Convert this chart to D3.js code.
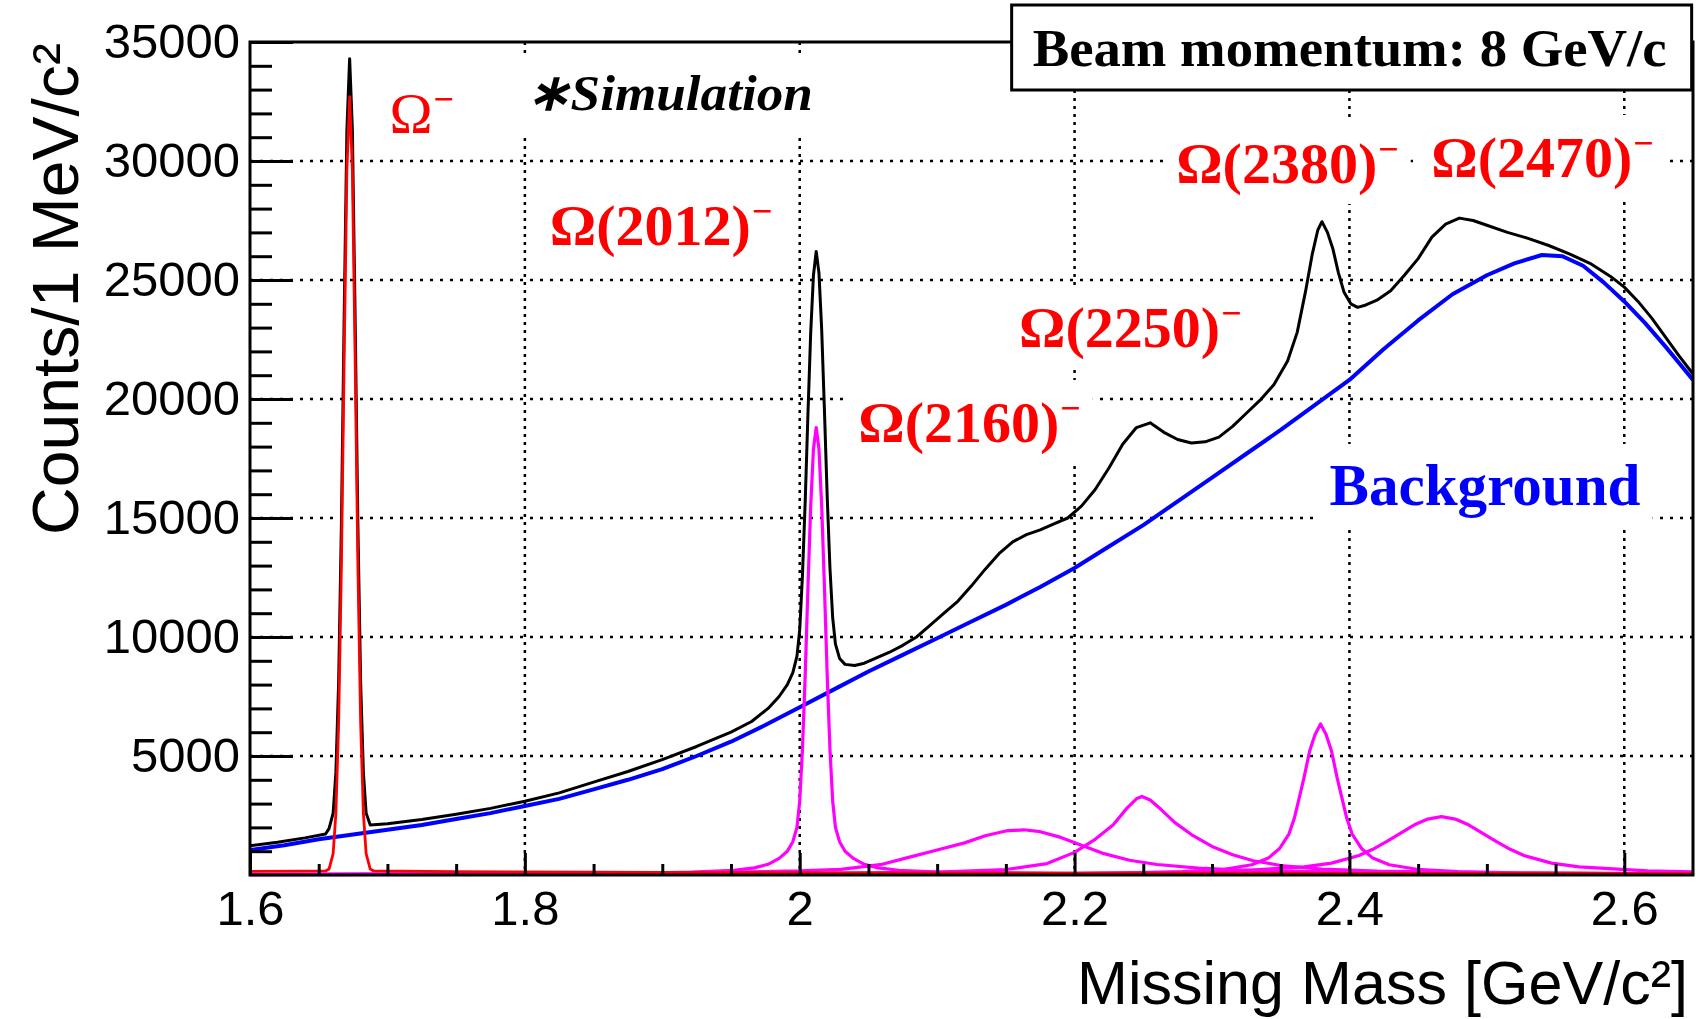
<!DOCTYPE html>
<html><head><meta charset="utf-8">
<script src="https://cdn.jsdelivr.net/npm/d3@7"></script>
<style>body{margin:0;background:#fff}</style>
</head><body>
<svg id="c" width="1696" height="1019" xmlns="http://www.w3.org/2000/svg"></svg>
<script>
// ---------- data ----------
const xDomain = [1.6, 2.65];
const yDomain = [0, 35000];
const xTickValues = [1.6, 1.8, 2.0, 2.2, 2.4, 2.6];
const xTickLabels = ["1.6", "1.8", "2", "2.2", "2.4", "2.6"];
const yTickValues = [5000, 10000, 15000, 20000, 25000, 30000, 35000];
const yTickLabels = ["5000", "10000", "15000", "20000", "25000", "30000", "35000"];
const xGrid = [1.8, 2.0, 2.2, 2.4, 2.6];
const yGrid = [5000, 10000, 15000, 20000, 25000, 30000];

// Background (blue)
const bgMass = [1.600,1.625,1.650,1.675,1.700,1.725,1.750,1.775,1.800,1.825,1.850,1.875,1.900,1.925,1.950,1.975,2.000,2.025,2.050,2.075,2.100,2.125,2.150,2.175,2.200,2.225,2.250,2.275,2.300,2.325,2.350,2.375,2.400,2.425,2.450,2.475,2.500,2.520,2.540,2.555,2.570,2.585,2.600,2.615,2.630,2.640,2.650];
const bgCounts = [1050,1250,1500,1700,1900,2100,2350,2600,2900,3200,3600,4000,4450,5000,5600,6300,7050,7800,8550,9250,9950,10650,11350,12100,12900,13800,14700,15700,16700,17700,18700,19750,20800,22100,23300,24400,25200,25700,26050,26000,25600,24900,24100,23200,22200,21500,20800];

// Total (black)
const totMass = [1.600,1.620,1.640,1.655,1.6575,1.6605,1.6625,1.6645,1.6665,1.6685,1.6705,1.6725,1.6745,1.6765,1.6785,1.6805,1.6825,1.6845,1.6875,1.700,1.725,1.750,1.775,1.800,1.825,1.850,1.875,1.900,1.925,1.950,1.965,1.977,1.985,1.991,1.995,1.998,2.000,2.002,2.004,2.006,2.008,2.010,2.012,2.014,2.016,2.018,2.020,2.022,2.024,2.026,2.029,2.033,2.040,2.047,2.055,2.065,2.075,2.085,2.095,2.105,2.115,2.125,2.135,2.145,2.155,2.165,2.175,2.185,2.195,2.205,2.215,2.225,2.235,2.245,2.255,2.265,2.275,2.285,2.295,2.305,2.315,2.325,2.335,2.345,2.355,2.362,2.368,2.373,2.377,2.380,2.384,2.388,2.392,2.396,2.401,2.406,2.412,2.420,2.430,2.440,2.450,2.460,2.470,2.480,2.490,2.500,2.515,2.530,2.545,2.560,2.575,2.590,2.600,2.610,2.620,2.630,2.640,2.650];
const totCounts = [1230,1380,1560,1720,1950,2600,4300,8100,14700,23400,31300,34300,31300,23400,14700,8100,4300,2600,2100,2150,2330,2550,2800,3100,3450,3900,4350,4850,5400,6000,6450,7000,7500,8000,8500,9200,10300,12600,15700,19400,22800,25200,26200,25300,22900,19500,15900,12900,10800,9700,9100,8850,8800,8900,9100,9350,9650,10000,10500,11000,11500,12150,12850,13500,14000,14300,14500,14750,15000,15500,16200,17100,18100,18800,19000,18600,18300,18150,18200,18400,18850,19400,19950,20600,21600,22800,24500,26100,27100,27450,27000,26300,25300,24500,24000,23850,23950,24150,24550,25200,25900,26800,27350,27600,27500,27300,27000,26750,26450,26100,25700,25150,24700,24100,23400,22600,21800,21050];

// Omega- (red)
const omMass = [1.600,1.640,1.655,1.6575,1.6605,1.6625,1.6645,1.6665,1.6685,1.6705,1.6725,1.6745,1.6765,1.6785,1.6805,1.6825,1.6845,1.6875,1.690,1.750,1.850,1.950,2.050,2.200,2.400,2.650];
const omCounts = [150,160,170,250,900,2600,6400,13000,21700,29600,32700,29600,21700,13000,6400,2600,900,250,170,140,120,100,90,80,70,60];

// Excited states (magenta)
const p2012Mass = [1.600,1.800,1.880,1.922,1.952,1.967,1.977,1.985,1.991,1.995,1.998,2.000,2.002,2.004,2.006,2.008,2.010,2.012,2.014,2.016,2.018,2.020,2.022,2.024,2.026,2.029,2.033,2.039,2.047,2.057,2.072,2.102,2.200,2.400,2.650];
const p2012Counts = [15,35,70,120,200,300,450,700,1000,1400,2000,3100,5300,8400,12100,15500,17900,18800,17900,15500,12100,8400,5300,3100,2000,1400,1000,700,450,300,200,120,60,30,20];

const p2160Mass = [1.600,1.800,1.900,1.950,2.000,2.030,2.060,2.080,2.100,2.120,2.135,2.150,2.163,2.175,2.190,2.205,2.220,2.240,2.260,2.290,2.330,2.400,2.500,2.650];
const p2160Counts = [30,60,90,120,170,240,450,750,1050,1350,1650,1850,1900,1820,1580,1250,920,620,440,290,190,120,80,50];

const p2250Mass = [1.600,1.900,2.000,2.100,2.150,2.180,2.200,2.215,2.228,2.238,2.245,2.249,2.255,2.263,2.273,2.285,2.300,2.315,2.330,2.350,2.380,2.420,2.500,2.650];
const p2250Counts = [20,40,60,120,230,480,950,1500,2100,2800,3200,3300,3150,2750,2200,1700,1200,850,600,400,250,160,90,50];

const p2380Mass = [1.600,2.000,2.200,2.229,2.279,2.309,2.329,2.341,2.349,2.356,2.360,2.364,2.367,2.371,2.375,2.379,2.383,2.387,2.391,2.394,2.398,2.402,2.409,2.417,2.429,2.449,2.479,2.529,2.650];
const p2380Counts = [15,30,60,80,140,240,430,710,1100,1720,2400,3370,4100,5200,5900,6350,5900,5200,4100,3370,2400,1720,1100,710,430,240,140,80,45];

const p2470Mass = [1.600,2.000,2.200,2.267,2.317,2.367,2.387,2.407,2.417,2.427,2.437,2.447,2.457,2.467,2.477,2.487,2.497,2.507,2.517,2.527,2.547,2.567,2.617,2.650];
const p2470Counts = [20,40,65,100,170,340,500,820,1080,1400,1750,2100,2350,2450,2350,2100,1750,1400,1080,820,500,340,170,130];

// Annotations: left/baseline anchors in data units
const peakLabels = [
  {text: "Ω",       sup: "−", m: 1.7015, c: 31176, bold: false, box: false},
  {text: "Ω(2012)", sup: "−", m: 1.8182, c: 26471, bold: true,  box: false},
  {text: "Ω(2160)", sup: "−", m: 2.0426, c: 18193, bold: true,  box: true},
  {text: "Ω(2250)", sup: "−", m: 2.1596, c: 22185, bold: true,  box: true},
  {text: "Ω(2380)", sup: "−", m: 2.2739, c: 29076, bold: true,  box: true},
  {text: "Ω(2470)", sup: "−", m: 2.4595, c: 29328, bold: true,  box: true}
];
const bgLabel = {text: "Background", m: 2.3855, c: 15546};
const simLabel = {text: "∗Simulation", m: 1.8007, c: 32143};
const beamLabel = {text: "Beam momentum: 8 GeV/c", m: 2.1695, c: 33992};
const xTitle = "Missing Mass [GeV/c²]";
const yTitle = "Counts/1 MeV/c²";

// ---------- drawing ----------
const svg = d3.select("#c");
const X0 = 250, X1 = 1693, Y0 = 42, Y1 = 875;
const x = d3.scaleLinear().domain(xDomain).range([X0, X1]);
const y = d3.scaleLinear().domain(yDomain).range([Y1, Y0]);
const SANS = "'Liberation Sans', Arial, sans-serif";
const SERIF = "'Liberation Serif', 'Times New Roman', serif";

svg.append("rect").attr("width", 1696).attr("height", 1019).attr("fill", "#fff");
svg.append("defs").append("clipPath").attr("id", "clip")
  .append("rect").attr("x", X0).attr("y", Y0 - 10).attr("width", X1 - X0).attr("height", Y1 - Y0 + 14);

const gGrid = svg.append("g");
const gBox = svg.append("g");
const gCurve = svg.append("g").attr("clip-path", "url(#clip)");
const gAxis = svg.append("g");
const gLab = svg.append("g");

// grid
gGrid.selectAll("line.v").data(xGrid).join("line").attr("class", "v")
  .attr("x1", d => x(d)).attr("x2", d => x(d)).attr("y1", Y0).attr("y2", Y1)
  .attr("stroke", "#000").attr("stroke-width", 2.5).attr("stroke-dasharray", "3,5");
gGrid.selectAll("line.h").data(yGrid).join("line").attr("class", "h")
  .attr("x1", X0).attr("x2", X1).attr("y1", d => y(d)).attr("y2", d => y(d))
  .attr("stroke", "#000").attr("stroke-width", 2.5).attr("stroke-dasharray", "3,7");

// curves
const line = d3.line().x(d => x(d[0])).y(d => y(d[1]));
const zip = (a, b) => a.map((v, i) => [v, b[i]]);
function draw(mass, counts, color, w) {
  gCurve.append("path").datum(zip(mass, counts)).attr("d", line)
    .attr("fill", "none").attr("stroke", color).attr("stroke-width", w)
    .attr("stroke-linejoin", "round");
}
draw(bgMass, bgCounts, "#0000ff", 4);
draw(totMass, totCounts, "#000000", 3);
[[p2012Mass, p2012Counts], [p2160Mass, p2160Counts], [p2250Mass, p2250Counts],
 [p2380Mass, p2380Counts], [p2470Mass, p2470Counts]].forEach(p => draw(p[0], p[1], "#ff00ff", 3.2));
draw(omMass, omCounts, "#ff0000", 2.8);

// frame
gAxis.append("rect").attr("x", X0).attr("y", Y0).attr("width", X1 - X0).attr("height", Y1 - Y0)
  .attr("fill", "none").attr("stroke", "#000").attr("stroke-width", 3);

// axes
const yAx = gAxis.append("g").attr("transform", `translate(${X0},0)`)
  .call(d3.axisLeft(y).tickValues(yTickValues).tickSize(-43).tickSizeOuter(0).tickPadding(10)
    .tickFormat((d, i) => yTickLabels[i]));
const yMinor = d3.range(1000, 35000, 1000).filter(v => v % 5000 !== 0);
const yAxMin = gAxis.append("g").attr("transform", `translate(${X0},0)`)
  .call(d3.axisLeft(y).tickValues(yMinor).tickSize(-22).tickSizeOuter(0).tickFormat(""));
const xAx = gAxis.append("g").attr("transform", `translate(0,${Y1})`)
  .call(d3.axisBottom(x).tickValues(xTickValues).tickSize(-22).tickSizeOuter(0).tickPadding(15)
    .tickFormat((d, i) => xTickLabels[i]));
const xMinor = d3.range(1, 20).map(i => 1.6 + i * 0.05).filter((v, i) => (i + 1) % 4 !== 0);
const xAxMin = gAxis.append("g").attr("transform", `translate(0,${Y1})`)
  .call(d3.axisBottom(x).tickValues(xMinor).tickSize(-11).tickSizeOuter(0).tickFormat(""));
[yAx, yAxMin, xAx, xAxMin].forEach(a => {
  a.select(".domain").remove();
  a.selectAll(".tick line").attr("stroke", "#000").attr("stroke-width", 3);
  a.selectAll("text").attr("font-family", SANS).attr("font-size", 49).attr("fill", "#000");
});

// axis titles
gLab.append("text").attr("x", 1688).attr("y", 1004).attr("text-anchor", "end")
  .attr("font-family", SANS).attr("font-size", 61)
  .attr("textLength", 611).attr("lengthAdjust", "spacingAndGlyphs").text(xTitle);
gLab.append("text").attr("transform", "translate(78,43) rotate(-90)").attr("text-anchor", "end")
  .attr("font-family", SANS).attr("font-size", 64)
  .attr("textLength", 492).attr("lengthAdjust", "spacingAndGlyphs").text(yTitle);

// labels with white boxes
function addBox(bb, px, py) {
  gBox.append("rect").attr("x", bb.x - px).attr("y", bb.y - py)
    .attr("width", bb.width + 2 * px).attr("height", bb.height + 2 * py).attr("fill", "#fff");
}
const FS = 58;
peakLabels.forEach(L => {
  const g = gLab.append("g");
  const t = g.append("text").attr("x", x(L.m)).attr("y", y(L.c))
    .attr("font-family", SERIF).attr("font-size", FS)
    .attr("font-weight", L.bold ? "bold" : "normal").attr("fill", "#ff0000").text(L.text);
  const w = t.node().getComputedTextLength();
  g.append("text").attr("x", x(L.m) + w + 1).attr("y", y(L.c) - 22)
    .attr("font-family", SERIF).attr("font-size", 36)
    .attr("font-weight", "bold").attr("fill", "#ff0000").text(L.sup);
  if (L.box) addBox(g.node().getBBox(), 12, 8);
});

const bgT = gLab.append("text").attr("x", x(bgLabel.m)).attr("y", y(bgLabel.c))
  .attr("font-family", SERIF).attr("font-size", 59).attr("font-weight", "bold").attr("fill", "#0000ff")
  .attr("textLength", 311).attr("lengthAdjust", "spacingAndGlyphs").text(bgLabel.text);
addBox(bgT.node().getBBox(), 12, 8);

const simT = gLab.append("text").attr("x", x(simLabel.m)).attr("y", y(simLabel.c))
  .attr("font-family", SERIF).attr("font-size", 51).attr("font-weight", "bold").attr("font-style", "italic")
  .attr("fill", "#000").attr("textLength", 287).attr("lengthAdjust", "spacingAndGlyphs").text(simLabel.text);
addBox(simT.node().getBBox(), 10, 12);

// beam momentum box
const bx = x(beamLabel.m), by = y(beamLabel.c);
gLab.append("rect").attr("x", bx - 21).attr("y", 5).attr("width", 680).attr("height", 85)
  .attr("fill", "#fff").attr("stroke", "#000").attr("stroke-width", 3);
gLab.append("text").attr("x", bx).attr("y", by)
  .attr("font-family", SERIF).attr("font-size", 52).attr("font-weight", "bold").attr("fill", "#000")
  .attr("textLength", 634).attr("lengthAdjust", "spacingAndGlyphs").text(beamLabel.text);
</script>
</body></html>
